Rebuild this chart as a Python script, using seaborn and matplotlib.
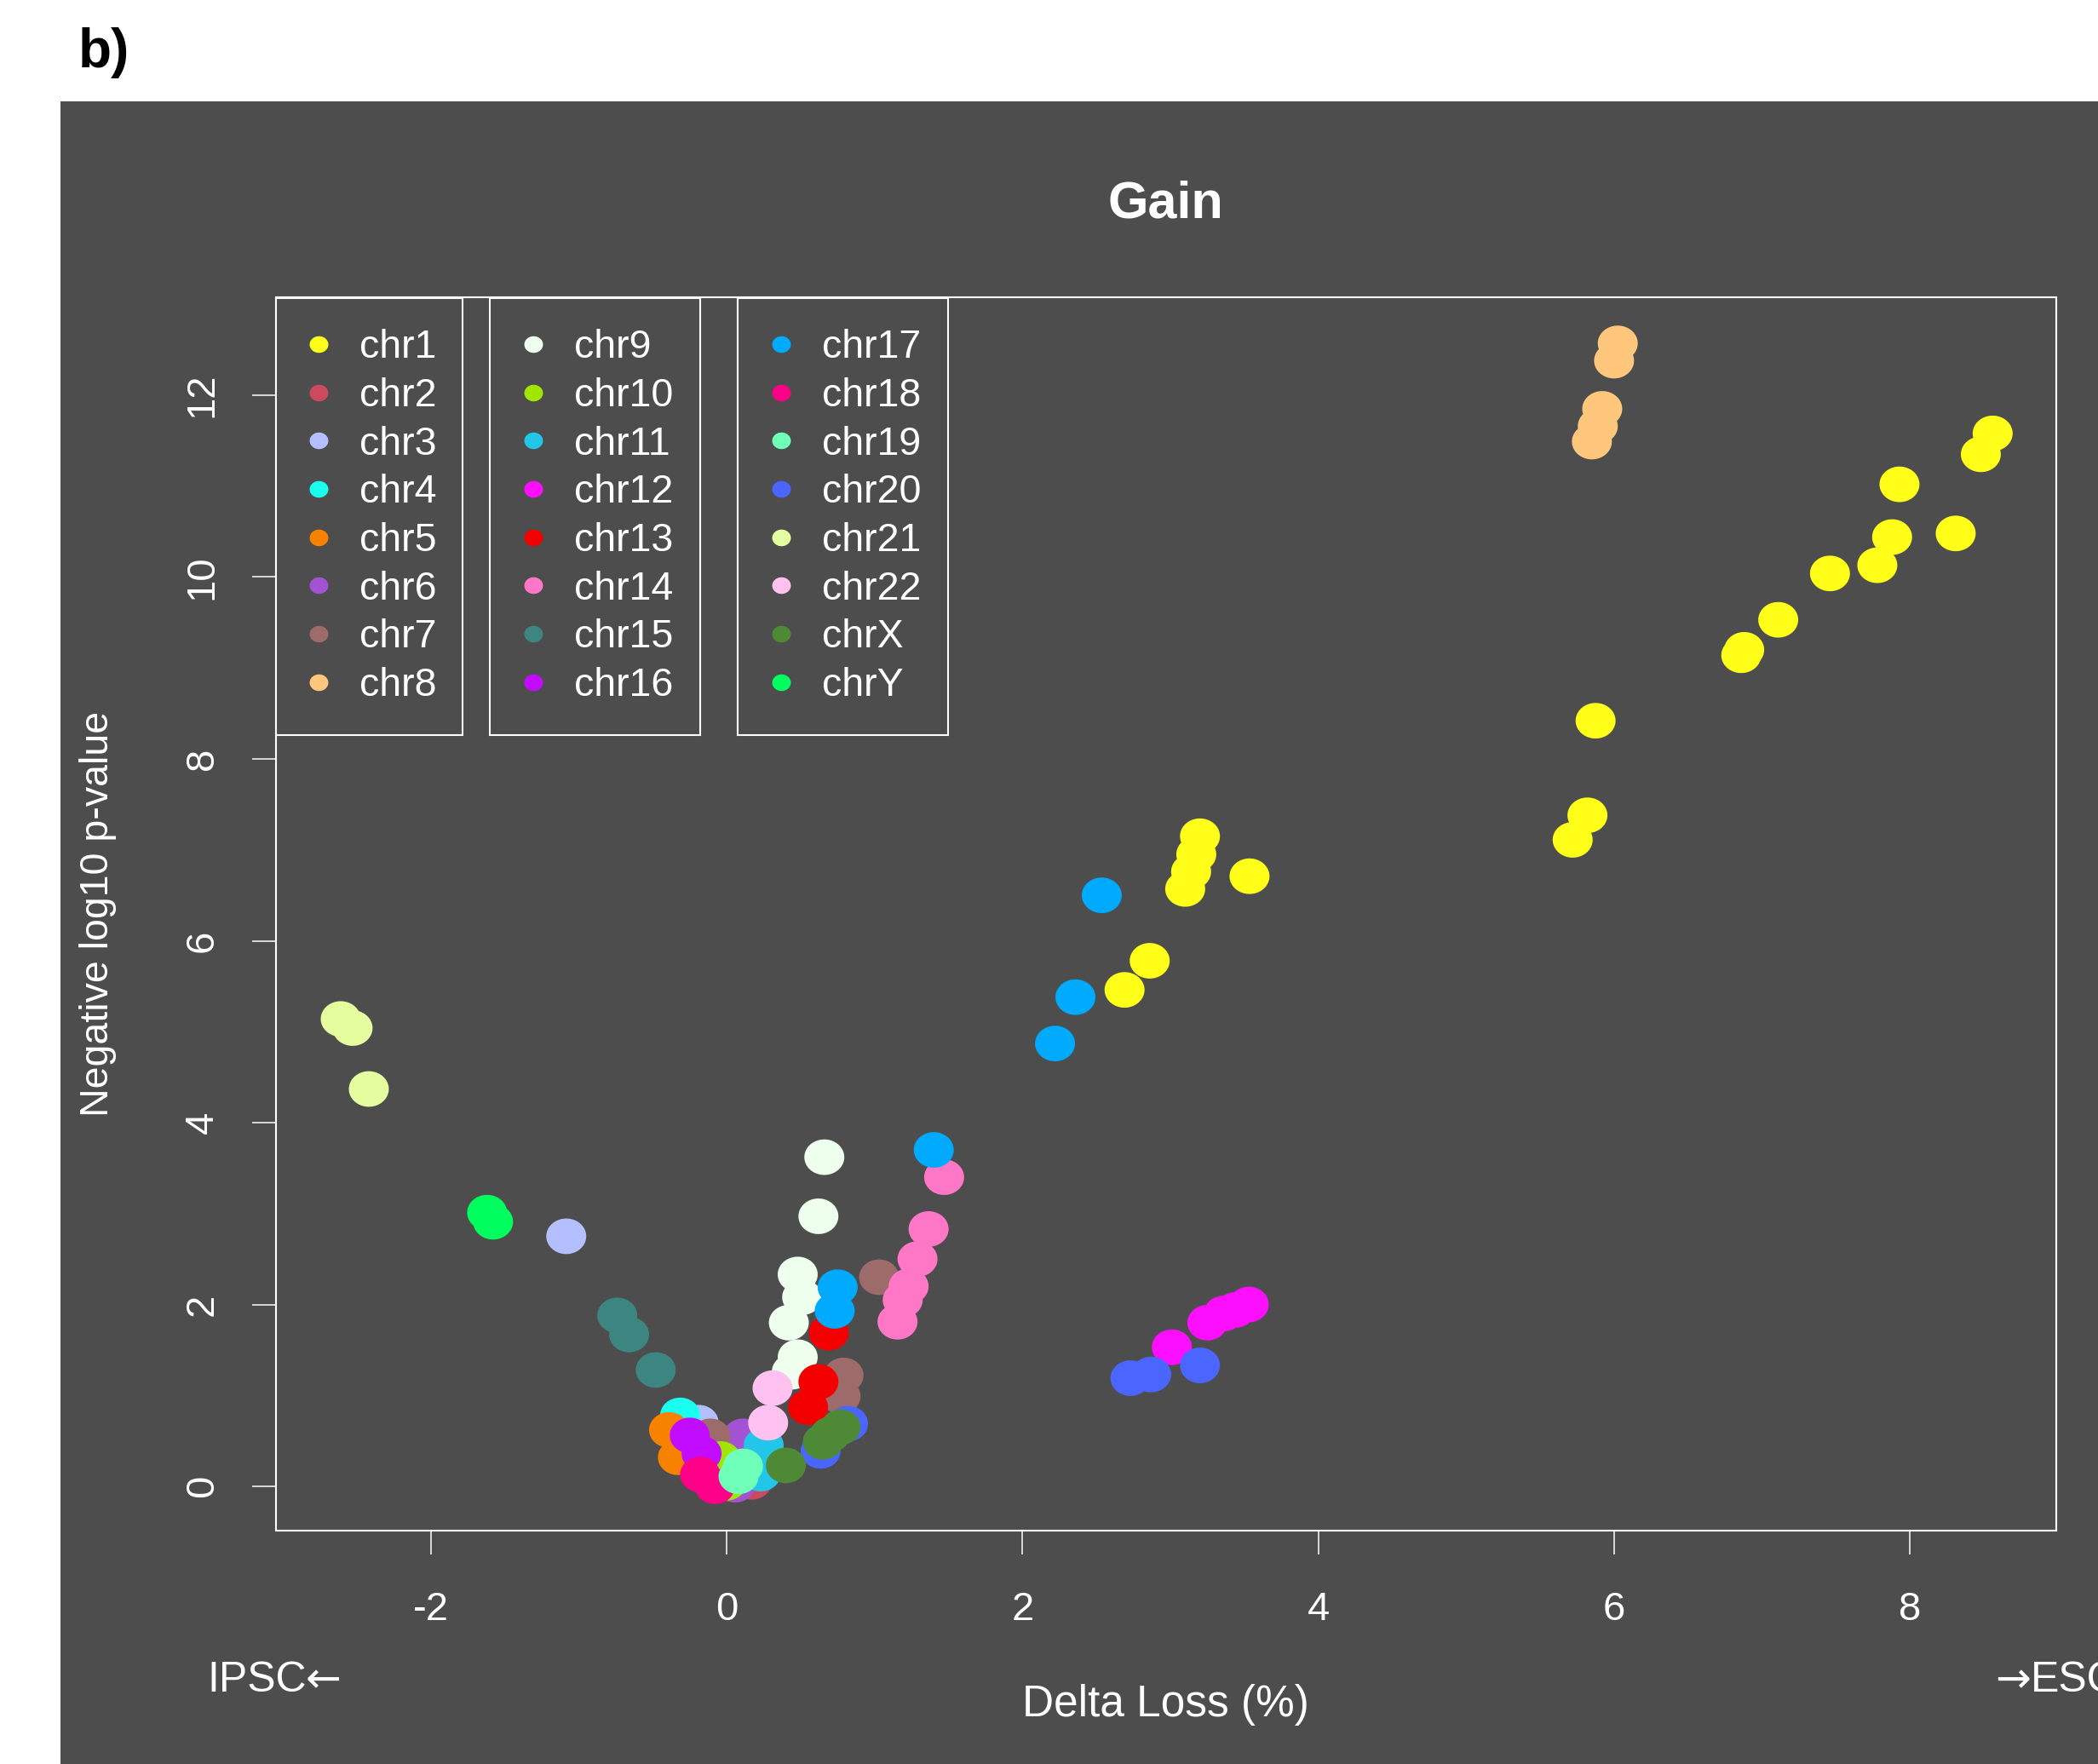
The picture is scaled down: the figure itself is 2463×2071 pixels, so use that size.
import numpy as np
import pandas as pd
import matplotlib
matplotlib.use("Agg")
import matplotlib.pyplot as plt
from matplotlib.path import Path
from matplotlib.markers import MarkerStyle
from matplotlib.patches import Rectangle
from matplotlib.lines import Line2D
import seaborn as sns

# ---------------- data ----------------
chromosomes = ["chr1", "chr2", "chr3", "chr4", "chr5", "chr6", "chr7", "chr8",
               "chr9", "chr10", "chr11", "chr12", "chr13", "chr14", "chr15", "chr16",
               "chr17", "chr18", "chr19", "chr20", "chr21", "chr22", "chrX", "chrY"]
chrom_colors = ["#FFFF19", "#CC4A5E", "#B3BFFF", "#19FFF0", "#F78200", "#A452D4",
                "#9C6B6A", "#FFC77C", "#EEFFEE", "#A2E500", "#21C6E8", "#FC0FFC",
                "#F50000", "#FF77C6", "#3D8581", "#C10CFF", "#00AAFF", "#FF0088",
                "#70FFB8", "#4A66FF", "#E5FFA0", "#FFC1EF", "#4E8A36", "#00FF5E"]

chr1_delta = [5.72, 5.82, 5.875, 6.86, 6.88, 7.11, 7.46, 7.78, 7.88, 7.93, 8.31, 8.48, 8.56,
              2.69, 2.86, 3.10, 3.14, 3.175, 3.20, 3.535]
chr1_logp = [7.11, 7.38, 8.42, 9.14, 9.20, 9.53, 10.04, 10.13, 10.44, 11.02, 10.48, 11.35, 11.58,
             5.46, 5.78, 6.57, 6.76, 6.95, 7.15, 6.71]
chr2_delta = [0.05, 0.17]
chr2_logp = [0.02, 0.05]
chr3_delta = [-1.085, -0.19]
chr3_logp = [2.75, 0.70]
chr4_delta = [-0.315]
chr4_logp = [0.78]
chr5_delta = [-0.39, -0.33]
chr5_logp = [0.62, 0.32]
chr6_delta = [0.11, 0.06]
chr6_logp = [0.55, 0.02]
chr7_delta = [1.03, 0.79, 0.77, -0.11]
chr7_logp = [2.30, 1.22, 0.99, 0.55]
chr8_delta = [6.025, 6.00, 5.92, 5.89, 5.85]
chr8_logp = [12.57, 12.38, 11.85, 11.66, 11.49]
chr9_delta = [0.66, 0.62, 0.48, 0.51, 0.42, 0.48, 0.44]
chr9_logp = [3.62, 2.97, 2.33, 2.08, 1.80, 1.42, 1.26]
chr10_delta = [-0.04, 0.0]
chr10_logp = [0.30, 0.04]
chr11_delta = [0.25, 0.23]
chr11_logp = [0.45, 0.14]
chr12_delta = [3.01, 3.25, 3.36, 3.44, 3.53]
chr12_logp = [1.53, 1.80, 1.90, 1.94, 2.00]
chr13_delta = [0.69, 0.62, 0.55]
chr13_logp = [1.69, 1.15, 0.87]
chr14_delta = [1.47, 1.365, 1.29, 1.23, 1.19, 1.155]
chr14_logp = [3.40, 2.83, 2.50, 2.20, 2.05, 1.81]
chr15_delta = [-0.74, -0.66, -0.48]
chr15_logp = [1.88, 1.67, 1.28]
chr16_delta = [-0.25, -0.17]
chr16_logp = [0.56, 0.36]
chr17_delta = [2.536, 2.358, 2.22, 1.40, 0.75, 0.73]
chr17_logp = [6.50, 5.38, 4.87, 3.70, 2.19, 1.93]
chr18_delta = [-0.18, -0.08]
chr18_logp = [0.13, 0.0]
chr19_delta = [0.11, 0.08]
chr19_logp = [0.22, 0.11]
chr20_delta = [2.73, 2.87, 3.20, 0.82, 0.635]
chr20_logp = [1.19, 1.23, 1.33, 0.69, 0.39]
chr21_delta = [-2.61, -2.53, -2.42]
chr21_logp = [5.14, 5.04, 4.37]
chr22_delta = [0.31, 0.28]
chr22_logp = [1.08, 0.70]
chrX_delta = [0.77, 0.70, 0.65, 0.40]
chrX_logp = [0.65, 0.57, 0.49, 0.23]
chrY_delta = [-1.62, -1.58]
chrY_logp = [3.01, 2.91]

x_ticks = [-2, 0, 2, 4, 6, 8]
x_tick_labels = ["-2", "0", "2", "4", "6", "8"]
y_ticks = [0, 2, 4, 6, 8, 10, 12]
y_tick_labels = ["0", "2", "4", "6", "8", "10", "12"]

# ---------------- build table ----------------
g = globals()
rows = []
for c in chromosomes:
    for dx, lp in zip(g[c + "_delta"], g[c + "_logp"]):
        rows.append((c, dx, lp))
df = pd.DataFrame(rows, columns=["chrom", "delta", "logp"])
palette = dict(zip(chromosomes, chrom_colors))

# ---------------- style ----------------
plt.rcParams['font.family'] = ['Liberation Sans', 'DejaVu Sans']
plt.rcParams['axes.unicode_minus'] = False
BG = '#4D4D4D'
W, H = 2463, 2071

fig = plt.figure(figsize=(W / 100, H / 100), dpi=100, facecolor='white')
fig.add_artist(Rectangle((71 / W, 0), 1 - 71 / W, 1 - 119 / H,
                         transform=fig.transFigure, facecolor=BG,
                         edgecolor='none', zorder=0))

ax_l, ax_r, ax_t, ax_b = 323.6, 2414.0, 348.7, 1797.0
ax = fig.add_axes([ax_l / W, 1 - ax_b / H, (ax_r - ax_l) / W, (ax_b - ax_t) / H])
ax.set_facecolor(BG)

theta = np.linspace(0, 2 * np.pi, 73)
ell_path = Path(np.column_stack([np.cos(theta), 0.89 * np.sin(theta)]), closed=True)
ell_marker = MarkerStyle(ell_path)

sns.scatterplot(data=df, x="delta", y="logp", hue="chrom", hue_order=chromosomes,
                palette=palette, s=33.8 ** 2, marker=ell_marker, linewidth=0,
                edgecolor='none', legend=False, ax=ax, zorder=3)

ax.set_xlim(-3.05, 8.99)
ax.set_ylim(-0.487, 13.08)

for sp in ax.spines.values():
    sp.set_color('white')
    sp.set_linewidth(1.5)

ax.set_xticks(x_ticks, labels=x_tick_labels)
ax.set_yticks(y_ticks, labels=y_tick_labels, rotation=90, va='center')
ax.tick_params(colors='white', length=20, width=1.1, direction='out', labelsize=34)
ax.tick_params(axis='x', pad=31)
ax.tick_params(axis='y', pad=26)

ax.set_title("Gain", fontsize=44, fontweight='bold', color='white', y=1.069, va='center')
ax.set_xlabel("Delta Loss (%)", fontsize=37, color='white')
ax.xaxis.label.set_va('center')
ax.xaxis.set_label_coords(0.5, -0.1415)
ax.set_ylabel("Negative log10 p-value", fontsize=33.5, color='white')
ax.yaxis.label.set_va('center')
ax.yaxis.set_label_coords(-0.1000, 0.5)

# direction annotations under the x axis ("IPSC←" and "→ESC")
y_dir = 1 - 1973 / H
fig.text(360 / W, y_dir, "IPSC", ha='right', va='center', fontsize=36, color='white')
fig.text(359 / W, y_dir, "\u2190", ha='left', va='center', fontsize=36, color='white',
         family=['DejaVu Sans'])
fig.text(2384 / W, y_dir, "\u2192", ha='right', va='center', fontsize=36, color='white',
         family=['DejaVu Sans'])
fig.text(2384 / W, y_dir, "ESC", ha='left', va='center', fontsize=36, color='white')

fig.text(122 / W, 1 - 62 / H, "b)", ha='center', va='center', fontsize=46,
         fontweight='bold', color='black')

# ---------------- legends (three boxed columns) ----------------
groups = [(0, 8, 0.0, 0.1048), (8, 16, 0.1202, 0.1183), (16, 24, 0.2597, 0.1180)]
for i0, i1, x0, w in groups:
    names = chromosomes[i0:i1]
    cols = chrom_colors[i0:i1]
    handles = [Line2D([], [], linestyle='none', marker=ell_marker, markersize=15.8,
                      markerfacecolor=c, markeredgewidth=0) for c in cols]
    leg = ax.legend(handles, names, loc='upper left', bbox_to_anchor=(x0, 0, w, 0.999),
                    bbox_transform=ax.transAxes, mode='expand', borderaxespad=0,
                    borderpad=0.78, labelspacing=0.272, handlelength=0.62,
                    handletextpad=0.72, fontsize=33.5, frameon=True, fancybox=False,
                    facecolor=BG, edgecolor='white', framealpha=1, labelcolor='white')
    leg.get_frame().set_linewidth(1.5)
    leg.set_zorder(5)
    ax.add_artist(leg)
ax.legend_ = None

fig.savefig("out.png", dpi=100, facecolor='white')
